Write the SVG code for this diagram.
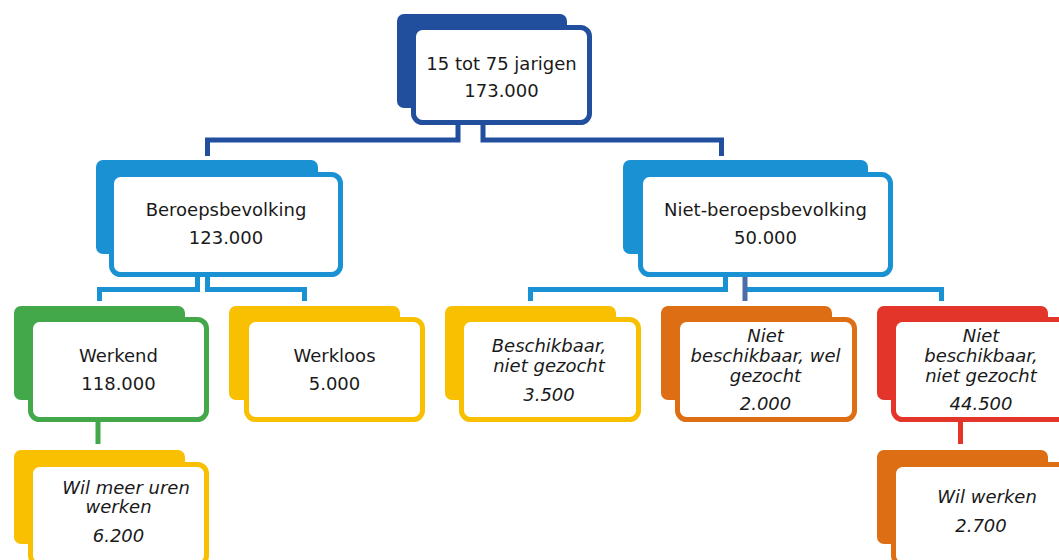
<svg xmlns="http://www.w3.org/2000/svg" width="1059" height="560" viewBox="0 0 1059 560">
<style>
text{font-family:"DejaVu Sans","Liberation Sans",sans-serif;font-size:18px;fill:#1a1a1a;text-anchor:middle}
.it{font-style:italic}
.front{fill:#fff;stroke-width:5}
.con{fill:none;stroke-width:5;stroke-linejoin:miter}
</style>
<rect width="1059" height="560" fill="#fff"/>
<g id="connectors">
<path class="con" stroke="#214f9e" d="M458,125 V140 H207.5 V156 M483,125 V140 H721.5 V156"/>
<path class="con" stroke="#1a91d2" d="M197.5,277 V289.5 H99.5 V301 M207.5,277 V289.5 H304.5 V301"/>
<path class="con" stroke="#1a91d2" d="M725.5,277 V289.5 H530.5 V301 M745,289.5 H941.5 V301"/>
<path class="con" stroke="#4a6da8" d="M745,277 V301"/>
<path class="con" stroke="#43a84a" d="M98,422 V444"/>
<path class="con" stroke="#e3352a" d="M960.5,422 V444"/>
</g>
<g id="n-total">
<rect x="397" y="14" width="170" height="94" rx="7" fill="#214f9e"/>
<rect class="front" x="413.5" y="27.5" width="176" height="95" rx="9" stroke="#214f9e"/>
<text x="501.5" y="70">15 tot 75 jarigen</text>
<text x="501.5" y="97">173.000</text>
</g>
<g id="n-beroeps">
<rect x="96" y="160" width="222" height="94" rx="7" fill="#1a91d2"/>
<rect class="front" x="111.5" y="174.5" width="229" height="100" rx="9" stroke="#1a91d2"/>
<text x="226" y="216">Beroepsbevolking</text>
<text x="226" y="244">123.000</text>
</g>
<g id="n-nietberoeps">
<rect x="623" y="160" width="245" height="94" rx="7" fill="#1a91d2"/>
<rect class="front" x="640.5" y="174.5" width="250" height="100" rx="9" stroke="#1a91d2"/>
<text x="765.5" y="216">Niet-beroepsbevolking</text>
<text x="765.5" y="244">50.000</text>
</g>
<g id="n-werkend">
<rect x="14" y="306" width="171" height="94" rx="7" fill="#43a84a"/>
<rect class="front" x="30.5" y="319.5" width="176" height="100" rx="9" stroke="#43a84a"/>
<text x="118.5" y="362">Werkend</text>
<text x="118.5" y="390">118.000</text>
</g>
<g id="n-werkloos">
<rect x="229" y="306" width="171" height="94" rx="7" fill="#f8c000"/>
<rect class="front" x="246.5" y="319.5" width="176" height="100" rx="9" stroke="#f8c000"/>
<text x="334.5" y="362">Werkloos</text>
<text x="334.5" y="390">5.000</text>
</g>
<g id="n-beschikbaar">
<rect x="445" y="306" width="171" height="94" rx="7" fill="#f8c000"/>
<rect class="front" x="461.5" y="319.5" width="177" height="100" rx="9" stroke="#f8c000"/>
<text class="it" x="549" y="352">Beschikbaar,</text>
<text class="it" x="549" y="372">niet gezocht</text>
<text class="it" x="549" y="401">3.500</text>
</g>
<g id="n-nietbeschikbaar-wel">
<rect x="661" y="306" width="171" height="94" rx="7" fill="#dd6e14"/>
<rect class="front" x="677.5" y="319.5" width="177" height="100" rx="9" stroke="#dd6e14"/>
<text class="it" x="765.5" y="342">Niet</text>
<text class="it" x="765.5" y="362">beschikbaar, wel</text>
<text class="it" x="765.5" y="382">gezocht</text>
<text class="it" x="765.5" y="410">2.000</text>
</g>
<g id="n-nietbeschikbaar-niet">
<rect x="877" y="306" width="171" height="94" rx="7" fill="#e3352a"/>
<rect class="front" x="893.5" y="319.5" width="177" height="100" rx="9" stroke="#e3352a"/>
<text class="it" x="981" y="342">Niet</text>
<text class="it" x="981" y="362">beschikbaar,</text>
<text class="it" x="981" y="382">niet gezocht</text>
<text class="it" x="981" y="410">44.500</text>
</g>
<g id="n-wilmeer">
<rect x="14" y="450" width="171" height="94" rx="7" fill="#f8c000"/>
<rect class="front" x="30.5" y="464.5" width="176" height="100" rx="9" stroke="#f8c000"/>
<text class="it" x="126" y="494">Wil meer uren</text>
<text class="it" x="118.5" y="513">werken</text>
<text class="it" x="118.5" y="542">6.200</text>
</g>
<g id="n-wilwerken">
<rect x="877" y="450" width="171" height="94" rx="7" fill="#dd6e14"/>
<rect class="front" x="893.5" y="464.5" width="177" height="100" rx="9" stroke="#dd6e14"/>
<text class="it" x="987" y="503">Wil werken</text>
<text class="it" x="981" y="532">2.700</text>
</g>
</svg>
